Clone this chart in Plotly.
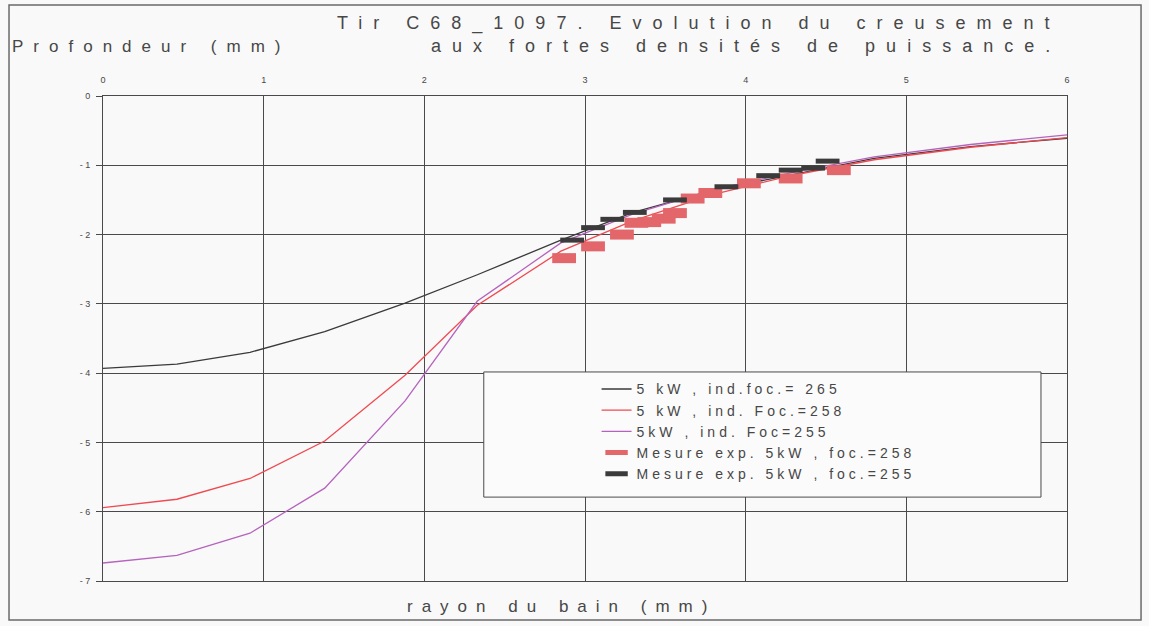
import plotly.graph_objects as go

# rayon du bain (mm) for the computed curves
rayon = [0, 0.46, 0.915, 1.38, 1.88, 2.33, 2.85, 3.3, 3.8, 4.3, 4.8, 5.4, 6.0]
prof_265 = [-3.93, -3.87, -3.70, -3.40, -2.99, -2.58, -2.08, -1.68, -1.36, -1.13, -0.90, -0.73, -0.61]
prof_258 = [-5.94, -5.82, -5.52, -4.98, -4.03, -3.02, -2.24, -1.80, -1.42, -1.14, -0.92, -0.74, -0.60]
prof_255 = [-6.74, -6.63, -6.31, -5.66, -4.40, -2.96, -2.12, -1.70, -1.35, -1.10, -0.88, -0.70, -0.56]

# experimental measurements
mes258_x = [2.87, 3.05, 3.23, 3.32, 3.40, 3.49, 3.56, 3.67, 3.78, 4.02, 4.28, 4.58]
mes258_y = [-2.34, -2.17, -2.00, -1.83, -1.82, -1.77, -1.69, -1.48, -1.40, -1.26, -1.19, -1.07]
mes255_x = [2.92, 3.05, 3.17, 3.31, 3.56, 3.88, 4.14, 4.28, 4.42, 4.51]
mes255_y = [-2.08, -1.90, -1.78, -1.68, -1.50, -1.31, -1.15, -1.07, -1.04, -0.94]

x_ticks = [0, 1, 2, 3, 4, 5, 6]
y_ticks = [0, -1, -2, -3, -4, -5, -6, -7]
y_labels = ["0", "- 1", "- 2", "- 3", "- 4", "- 5", "- 6", "- 7"]

FONT = "Arial, Liberation Sans, sans-serif"
GRID = "#4a4a4a"
TXT = "#474747"


def spaced(s, px):
    return '<span style="letter-spacing:%dpx">%s</span>' % (px, s)


fig = go.Figure()
fig.add_trace(go.Scatter(x=rayon, y=prof_265, mode="lines", name=spaced("5 kW , ind.foc.= 265", 4),
                         line=dict(color="#3a3a3a", width=1.3)))
fig.add_trace(go.Scatter(x=rayon, y=prof_258, mode="lines", name=spaced("5 kW , ind. Foc.=258", 4),
                         line=dict(color="#ef4a52", width=1.3)))
fig.add_trace(go.Scatter(x=rayon, y=prof_255, mode="lines", name=spaced("5kW , ind. Foc=255", 4),
                         line=dict(color="#b563bd", width=1.3)))
fig.add_trace(go.Scatter(x=mes258_x, y=mes258_y, mode="markers", name=spaced("Mesure exp. 5kW , foc.=258", 4),
                         marker=dict(symbol="line-ew", size=17, line=dict(color="#e3666a", width=10))))
fig.add_trace(go.Scatter(x=mes255_x, y=mes255_y, mode="markers", name=spaced("Mesure exp. 5kW , foc.=255", 4),
                         marker=dict(symbol="line-ew", size=17, line=dict(color="#3b3b3b", width=5))))

# legend box and outer frame
fig.add_shape(type="rect", xref="paper", yref="paper", x0=0.395, x1=0.973, y0=0.173, y1=0.431,
              fillcolor="#fbfbfb", line=dict(color=GRID, width=1), layer="above")
fig.add_shape(type="rect", xref="paper", yref="paper", x0=-0.0975, x1=1.0768, y0=-0.0804, y1=1.1876,
              line=dict(color="#6a6a6a", width=1.5), layer="below")

fig.add_annotation(text=spaced("Tir C68_1097. Evolution du creusement", 11), xref="paper", yref="paper",
                   x=0.996, y=1.149, xanchor="right", yanchor="middle", showarrow=False,
                   font=dict(size=18, color=TXT, family=FONT))
fig.add_annotation(text=spaced("aux fortes densités de puissance.", 11), xref="paper", yref="paper",
                   x=0.996, y=1.103, xanchor="right", yanchor="middle", showarrow=False,
                   font=dict(size=18, color=TXT, family=FONT))
fig.add_annotation(text=spaced("Profondeur (mm)", 10), xref="paper", yref="paper",
                   x=-0.096, y=1.103, xanchor="left", yanchor="middle", showarrow=False,
                   font=dict(size=17, color=TXT, family=FONT))
fig.add_annotation(text=spaced("rayon du bain (mm)", 9), xref="paper", yref="paper",
                   x=0.476, y=-0.052, xanchor="center", yanchor="middle", showarrow=False,
                   font=dict(size=17, color=TXT, family=FONT))

fig.update_xaxes(range=[0, 6], side="top", tickvals=x_ticks, showgrid=True, gridcolor=GRID, gridwidth=1,
                 showline=True, linecolor=GRID, linewidth=1, mirror=True, zeroline=False,
                 ticks="", ticklabelstandoff=8, tickfont=dict(size=9, color=TXT, family=FONT))
fig.update_yaxes(range=[-7, 0], tickvals=y_ticks, ticktext=y_labels, showgrid=True, gridcolor=GRID, gridwidth=1,
                 showline=True, linecolor=GRID, linewidth=1, mirror=True, zeroline=False,
                 ticks="outside", ticklen=6, tickcolor=GRID, ticklabelstandoff=4,
                 tickfont=dict(size=9, color=TXT, family=FONT))

fig.update_layout(
    width=1149, height=626,
    margin=dict(l=103, r=82, t=96, b=45),
    paper_bgcolor="#f9f9f9", plot_bgcolor="#f9f9f9",
    font=dict(family=FONT, color=TXT),
    showlegend=True,
    legend=dict(x=0.512, y=0.428, xanchor="left", yanchor="top", bgcolor="rgba(0,0,0,0)",
                font=dict(size=14, color=TXT, family=FONT), tracegroupgap=0),
)

# drop the browser's default body margin so the figure sits at the page corner
fig.write_html("out.html", config={"displayModeBar": False},
               post_script="document.body.style.margin='0';")
